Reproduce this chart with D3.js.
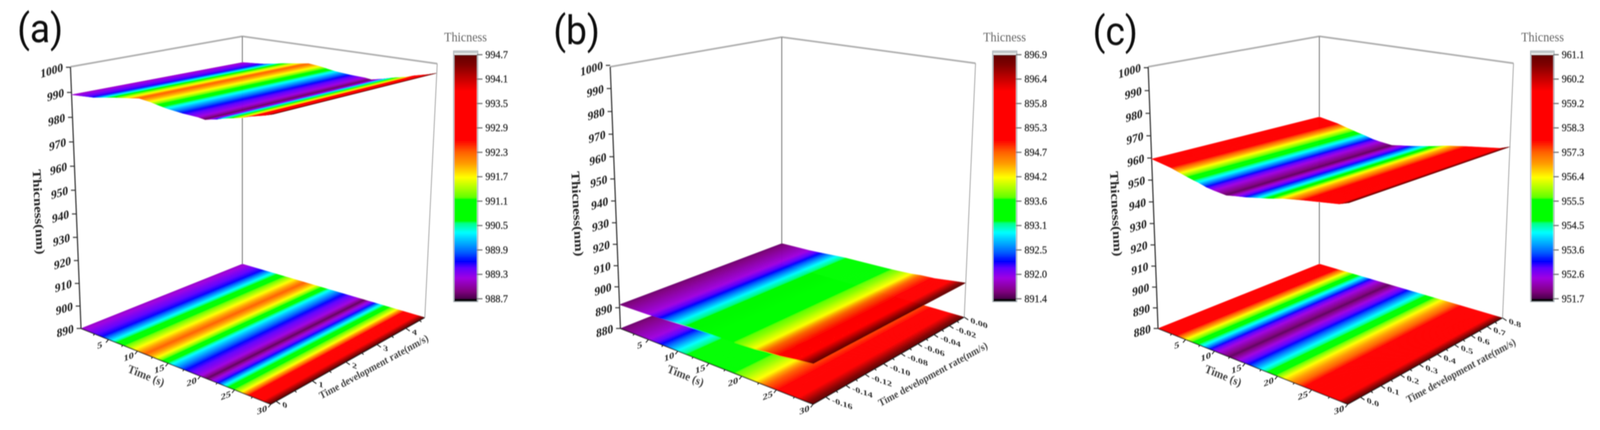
<!DOCTYPE html>
<html>
<head>
<meta charset="utf-8">
<script src="https://cdn.jsdelivr.net/npm/d3@7"></script>
<style>
  html, body { margin: 0; padding: 0; background: #fff; overflow: hidden; }
  text { font-family: "Liberation Serif", serif; }
</style>
</head>
<body>
<div class="container"></div>
<script>
// values: thickness against time for each film
const timesA = [0, 3.8, 5.6, 7, 9.5, 11.3, 13, 14.4, 15.6, 17.8, 20, 21, 21.8, 22.6, 23.5, 24.5, 26, 27, 28.9, 30];
const thickA = [989.1, 989.6, 990.3, 990.9, 991.7, 992.3, 991.7, 990.9, 990.3, 989.6, 989.2, 988.75, 989.2, 989.6, 990.3, 990.9, 991.7, 992.6, 993.8, 994.7];

const timesB = [0, 5, 7, 10, 11.5, 18.5, 20, 22, 23.5, 25.5, 28, 30];
const thickB = [891.5, 891.85, 892.2, 892.9, 893.15, 893.6, 893.8, 894.15, 894.7, 895.0, 896.1, 896.9];

const timesC = [0, 3.3, 5, 6.8, 8, 9.3, 10.5, 12.5, 14, 15.5, 17.5, 19, 21, 24, 28.7, 30];
const thickC = [959.6, 957.8, 956.4, 955, 954.2, 953.1, 952.5, 951.8, 952.5, 953.1, 954.2, 955, 956.4, 957.8, 959.7, 961.1];

// tick labels
const timeTicks = [5, 10, 15, 20, 25, 30];
const timeMinor = [2.5, 7.5, 12.5, 17.5, 22.5, 27.5];
const zTicksA = [890, 900, 910, 920, 930, 940, 950, 960, 970, 980, 990, 1000];
const zTicksBC = [880, 890, 900, 910, 920, 930, 940, 950, 960, 970, 980, 990, 1000];
const rateTicksA = ["0", "1", "2", "3", "4"];
const rateMinorA = [0.5, 1.5, 2.5, 3.5, 4.5];
const rateTicksB = ["-0.16", "-0.14", "-0.12", "-0.10", "-0.08", "-0.06", "-0.04", "-0.02", "0.00"];
const rateMinorB = [-0.15, -0.13, -0.11, -0.09, -0.07, -0.05, -0.03, -0.01];
const rateTicksC = ["0.0", "0.1", "0.2", "0.3", "0.4", "0.5", "0.6", "0.7", "0.8"];
const rateMinorC = [0.05, 0.15, 0.25, 0.35, 0.45, 0.55, 0.65, 0.75];
const barLabelsA = ["994.7", "994.1", "993.5", "992.9", "992.3", "991.7", "991.1", "990.5", "989.9", "989.3", "988.7"];
const barLabelsB = ["896.9", "896.4", "895.8", "895.3", "894.7", "894.2", "893.6", "893.1", "892.5", "892.0", "891.4"];
const barLabelsC = ["961.1", "960.2", "959.2", "958.3", "957.3", "956.4", "955.5", "954.5", "953.6", "952.6", "951.7"];

// rainbow colour map of the bar, position 0..1 up the bar
const mapStops = [0, 0.029, 0.083, 0.125, 0.152, 0.19, 0.27, 0.31, 0.315, 0.408, 0.413, 0.496, 0.55, 0.6, 0.648, 0.85, 0.904, 0.957, 1];
const mapColors = ["#4b004b", "#800080", "#a000e0", "#6000ff", "#0000ff", "#0060ff", "#00ffff", "#00ff80", "#00ff00", "#00ff00", "#60ff00", "#ffff00", "#ffa000", "#ff6000", "#ff0000", "#ff0000", "#c00000", "#800000", "#600000"];

// where each panel sits on the page
const panels = [
  { name: "(a)", nameX: 47, nameY: 108, left: 0, times: timesA, thick: thickA, zTicks: zTicksA,
    rateDomain: [-0.14, 4.7], rateTicks: rateTicksA, rateMinor: rateMinorA, barLabels: barLabelsA,
    L: [222, 841], F: [742, 1035], R: [1164, 813], B: [664, 676],
    topL: [193, 171], topB: [664, 93], topR: [1198, 163],
    barX: 1245, barW: 62, legendX: 1217, rateTitle: [1028, 938], zTitle: [105, 543] },
  { name: "(b)", nameX: 1516, nameY: 113, left: 1460, times: timesB, thick: thickB, zTicks: zTicksBC,
    rateDomain: [-0.172, 0], rateTicks: rateTicksB, rateMinor: rateMinorB, barLabels: barLabelsB,
    L: [1700, 841], F: [2228, 1035], R: [2642, 812], B: [2142, 676],
    topL: [1672, 171], topB: [2142, 95], topR: [2673, 162],
    barX: 2722, barW: 62, legendX: 2694, rateTitle: [2560, 957], zTitle: [1581, 548] },
  { name: "(c)", nameX: 2994, nameY: 115, left: 2920, times: timesC, thick: thickC, zTicks: zTicksBC,
    rateDomain: [-0.06, 0.8], rateTicks: rateTicksC, rateMinor: rateMinorC, barLabels: barLabelsC,
    L: [3173, 841], F: [3693, 1035], R: [4117, 814], B: [3615, 676],
    topL: [3146, 171], topB: [3615, 93], topR: [4147, 162],
    barX: 4196, barW: 60, legendX: 4168, rateTitle: [4007, 948], zTitle: [3057, 548] }
];

const width = 4384;
const height = 1101;
const barTop = 140;
const barBottom = 765;

// the browser window can come out narrower than asked, so fill whatever it gives
const svg = d3.select(".container")
  .append("svg")
  .attr("width", window.innerWidth)
  .attr("height", window.innerHeight)
  .attr("viewBox", [0, 0, width, height])
  .attr("preserveAspectRatio", "none")
  .style("display", "block");

const defs = svg.append("defs");

const mapColor = d3.scaleLinear().domain(mapStops).range(mapColors).clamp(true);

// projective camera from the four floor corners and the three top corners
function makeCamera(p) {
  const [x0, y0] = p.L, [x1, y1] = p.F, [x2, y2] = p.R, [x3, y3] = p.B;
  const dx1 = x1 - x2, dx2 = x3 - x2, sx = x0 - x1 + x2 - x3;
  const dy1 = y1 - y2, dy2 = y3 - y2, sy = y0 - y1 + y2 - y3;
  const den = dx1 * dy2 - dx2 * dy1;
  const g = (sx * dy2 - dx2 * sy) / den;
  const h = (dx1 * sy - sx * dy1) / den;
  const colU = [x1 - x0 + g * x1, y1 - y0 + g * y1, g];
  const colV = [x3 - x0 + h * x3, y3 - y0 + h * y3, h];
  const colO = [x0, y0, 1];

  // upward column, fitted on the three top corners
  const baseL = colO;
  const baseB = [colO[0] + colV[0], colO[1] + colV[1], colO[2] + colV[2]];
  const baseR = [colO[0] + colU[0] + colV[0], colO[1] + colU[1] + colV[1], colO[2] + colU[2] + colV[2]];
  const cw = (p.topR[0] * baseR[2] - baseR[0] + baseL[0] - p.topL[0] * baseL[2]) / (p.topL[0] - p.topR[0]);
  const tops = [[p.topL, baseL], [p.topB, baseB], [p.topR, baseR]];
  const cx = d3.mean(tops, d => d[0][0] * (cw + d[1][2]) - d[1][0]);
  const cy = d3.mean(tops, d => d[0][1] * (cw + d[1][2]) - d[1][1]);
  const colW = [cx, cy, cw];

  return function(u, v, w) {
    const X = u * colU[0] + v * colV[0] + w * colW[0] + colO[0];
    const Y = u * colU[1] + v * colV[1] + w * colW[1] + colO[1];
    const Z = u * colU[2] + v * colV[2] + w * colW[2] + colO[2];
    return [X / Z, Y / Z];
  };
}

function drawPanel(p, i) {
  // the reference is a soft upscaled bitmap, one filter per panel keeps the region small
  defs.append("filter")
    .attr("id", "soft" + i)
    .attr("filterUnits", "userSpaceOnUse")
    .attr("x", p.left).attr("y", 0).attr("width", 1464).attr("height", height)
    .append("feGaussianBlur")
    .attr("stdDeviation", 1.4);

  const g = svg.append("g").attr("filter", `url(#soft${i})`);
  const camera = makeCamera(p);

  const tScale = d3.scaleLinear().domain([0, 30]).range([0, 1]);
  const rScale = d3.scaleLinear().domain(p.rateDomain).range([0, 1]);
  const zScale = d3.scaleLinear().domain(d3.extent(p.zTicks)).range([0, 1]);
  const project = (t, r, z) => camera(tScale(t), rScale(r), zScale(z));

  const zMin = d3.min(p.zTicks);
  const [rLo, rHi] = p.rateDomain;

  const barMin = +p.barLabels[p.barLabels.length - 1];
  const barMax = +p.barLabels[0];
  const fraction = d3.scaleLinear().domain([barMin, barMax]).range([0, 1]);
  const thickAt = d3.scaleLinear().domain(p.times).range(p.thick);

  const lineGen = d3.line();

  // back frame
  const frame = [
    { a: p.topL, b: p.topB, c: "#a8a8a8", w: 4 },
    { a: p.topB, b: p.topR, c: "#a8a8a8", w: 4 },
    { a: p.topB, b: p.B, c: "#777", w: 2.5 },
    { a: p.topR, b: p.R, c: "#aaa", w: 2.5 },
    { a: p.topL, b: p.L, c: "#444", w: 3.5 }
  ];
  g.selectAll(".frame")
    .data(frame)
    .join("path")
    .attr("class", "frame")
    .attr("d", d => lineGen([d.a, d.b]))
    .attr("stroke", d => d.c)
    .attr("stroke-width", d => d.w)
    .attr("fill", "none");

  // floor map then the surface, both as thin strips across the rate axis
  const steps = d3.range(0, 30, 0.1);
  function strips(level) {
    g.append("g").selectAll("path")
      .data(steps)
      .join("path")
      .attr("d", t => {
        const t2 = Math.min(t + 0.1, 30);
        return lineGen([
          project(t, rLo, level(t)),
          project(t2, rLo, level(t2)),
          project(t2, rHi, level(t2)),
          project(t, rHi, level(t))
        ]) + "Z";
      })
      .attr("fill", t => mapColor(fraction(thickAt(t + 0.05))))
      .attr("stroke", t => mapColor(fraction(thickAt(t + 0.05))))
      .attr("stroke-width", 0.8);
  }
  strips(() => zMin);

  // floor edges
  g.selectAll(".edge")
    .data([[p.L, p.F], [p.F, p.R]])
    .join("path")
    .attr("class", "edge")
    .attr("d", d => lineGen(d))
    .attr("stroke", "#111")
    .attr("stroke-width", 2.5)
    .attr("fill", "none");

  strips(thickAt);

  const tickStroke = "#222";

  // thickness axis
  g.selectAll(".ztick")
    .data(p.zTicks)
    .join("path")
    .attr("class", "ztick")
    .attr("d", d => {
      const a = project(0, rLo, d);
      return lineGen([a, [a[0] - 12, a[1]]]);
    })
    .attr("stroke", tickStroke)
    .attr("stroke-width", 2.5);
  g.selectAll(".zlabel")
    .data(p.zTicks)
    .join("text")
    .attr("class", "zlabel")
    .attr("transform", d => {
      const a = project(0, rLo, d);
      return `translate(${a[0] - 20},${a[1] + 10}) skewY(-16)`;
    })
    .attr("text-anchor", "end")
    .attr("font-size", 31)
    .attr("font-weight", "bold")
    .attr("fill", "#222")
    .text(d => d);

  // time axis
  g.selectAll(".ttick")
    .data(timeTicks.concat(timeMinor))
    .join("path")
    .attr("class", "ttick")
    .attr("d", d => {
      const a = project(d, rLo, zMin);
      const k = timeTicks.includes(d) ? 1 : 0.5;
      return lineGen([a, [a[0] - 7 * k, a[1] + 8 * k]]);
    })
    .attr("stroke", tickStroke)
    .attr("stroke-width", 2.5);
  g.selectAll(".tlabel")
    .data(timeTicks)
    .join("text")
    .attr("class", "tlabel")
    .attr("transform", d => {
      const a = project(d, rLo, zMin);
      return `translate(${a[0] - 24},${a[1] + 22}) skewY(-20) scale(1,0.8)`;
    })
    .attr("text-anchor", "middle")
    .attr("font-size", 28)
    .attr("font-weight", "bold")
    .attr("fill", "#333")
    .text(d => d);

  // rate axis
  g.selectAll(".rtick")
    .data(p.rateTicks.map(Number).concat(p.rateMinor))
    .join("path")
    .attr("class", "rtick")
    .attr("d", d => {
      const a = project(30, d, zMin);
      const k = p.rateTicks.map(Number).includes(d) ? 1 : 0.5;
      return lineGen([a, [a[0] + 11 * k, a[1] + 7 * k]]);
    })
    .attr("stroke", tickStroke)
    .attr("stroke-width", 2.5);
  g.selectAll(".rlabel")
    .data(p.rateTicks)
    .join("text")
    .attr("class", "rlabel")
    .attr("transform", d => {
      const a = project(30, +d, zMin);
      return `translate(${a[0] + 17},${a[1] + 14}) skewY(18) scale(1,0.72)`;
    })
    .attr("font-size", 27)
    .attr("font-weight", "bold")
    .attr("fill", "#333")
    .text(d => d);

  // axis titles
  g.append("text")
    .attr("transform", `translate(${p.L[0] + 175},${p.L[1] + 130}) rotate(21)`)
    .attr("text-anchor", "middle")
    .attr("font-size", 30)
    .attr("font-weight", "bold")
    .attr("fill", "#444")
    .text("Time (s)");
  g.append("text")
    .attr("transform", `translate(${p.rateTitle[0]},${p.rateTitle[1] + 9}) rotate(-27)`)
    .attr("text-anchor", "middle")
    .attr("font-size", 27)
    .attr("font-weight", "bold")
    .attr("fill", "#444")
    .attr("textLength", 332)
    .attr("lengthAdjust", "spacingAndGlyphs")
    .text("Time development rate(nm/s)");
  g.append("text")
    .attr("transform", `translate(${p.zTitle[0] - 10},${p.zTitle[1]}) rotate(87)`)
    .attr("text-anchor", "middle")
    .attr("font-size", 33)
    .attr("font-weight", "bold")
    .attr("fill", "#222")
    .attr("textLength", 218)
    .attr("lengthAdjust", "spacingAndGlyphs")
    .text("Thicness(nm)");

  // colour bar
  const barY = d3.scaleLinear().domain([0, 1]).range([barBottom, barTop]);
  const cells = d3.range(0, 1, 0.004);
  g.append("rect")
    .attr("x", p.barX - 2)
    .attr("y", barTop - 9)
    .attr("width", p.barW + 4)
    .attr("height", barBottom - barTop + 16)
    .attr("fill", "#fff")
    .attr("stroke", "#aeb6bc")
    .attr("stroke-width", 3);
  g.append("rect")
    .attr("x", p.barX)
    .attr("y", barTop - 8)
    .attr("width", p.barW)
    .attr("height", 5)
    .attr("fill", "#c4cccc");
  g.append("g").selectAll("rect")
    .data(cells)
    .join("rect")
    .attr("x", p.barX)
    .attr("y", d => barY(d + 0.004))
    .attr("width", p.barW)
    .attr("height", d => barY(d) - barY(d + 0.004) + 0.6)
    .attr("fill", d => mapColor(d));
  g.append("rect")
    .attr("x", p.barX)
    .attr("y", barBottom)
    .attr("width", p.barW)
    .attr("height", 7)
    .attr("fill", "#000");

  const labelY = d3.scalePoint().domain(p.barLabels).range([barTop, barBottom]);
  g.selectAll(".btick")
    .data(p.barLabels)
    .join("path")
    .attr("class", "btick")
    .attr("d", d => lineGen([[p.barX + p.barW, labelY(d)], [p.barX + p.barW + 15, labelY(d)]]))
    .attr("stroke", "#555")
    .attr("stroke-width", 2.5);
  g.selectAll(".blabel")
    .data(p.barLabels)
    .join("text")
    .attr("class", "blabel")
    .attr("x", p.barX + p.barW + 23)
    .attr("y", d => labelY(d) + 9)
    .attr("font-size", 27.5)
    .attr("fill", "#222")
    .attr("stroke", "#222")
    .attr("stroke-width", 0.5)
    .text(d => d);

  g.append("text")
    .attr("x", p.legendX)
    .attr("y", 106)
    .attr("font-size", 33)
    .attr("fill", "#666")
    .text("Thicness");

  // panel letter
  g.append("text")
    .attr("x", p.nameX)
    .attr("y", p.nameY)
    .attr("font-size", 102)
    .attr("fill", "#111")
    .style("font-family", "Roboto, sans-serif")
    .text(p.name);
}

panels.forEach(drawPanel);
</script>
</body>
</html>
